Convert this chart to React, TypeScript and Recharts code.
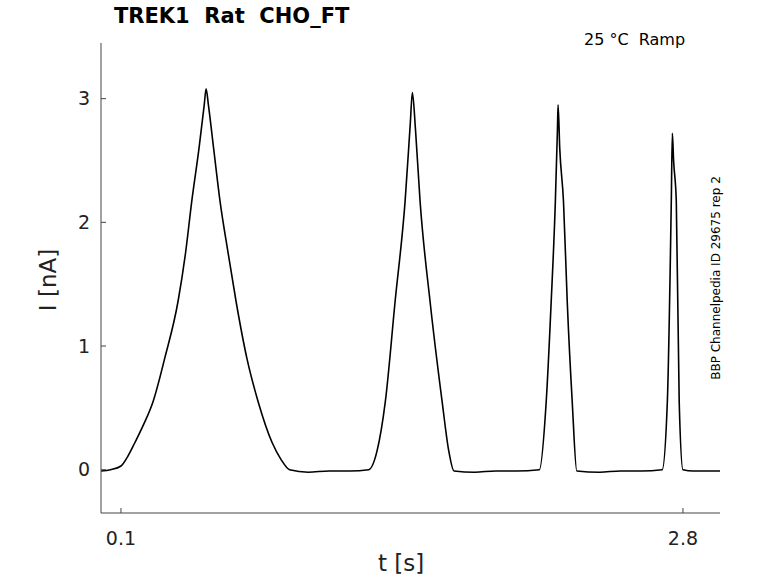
import { LineChart, Line, XAxis, YAxis } from "recharts";

const times = [
  0.004, 0.05, 0.1, 0.13, 0.167, 0.21, 0.254, 0.31, 0.374, 0.41, 0.44, 0.475, 0.5, 0.509,
  0.52, 0.545, 0.576, 0.615, 0.653, 0.705, 0.759, 0.826, 0.87, 0.91, 1.0, 1.1, 1.2, 1.29,
  1.33, 1.37, 1.417, 1.465, 1.49, 1.5, 1.515, 1.537, 1.585, 1.643, 1.675, 1.70, 1.8, 1.9,
  2.0, 2.11, 2.143, 2.167, 2.187, 2.197, 2.2, 2.208, 2.226, 2.244, 2.268, 2.29, 2.4, 2.5,
  2.6, 2.70, 2.725, 2.744, 2.749, 2.755, 2.768, 2.782, 2.80, 2.85, 2.9, 2.978,
];
const current = [
  -0.01, 0.0, 0.03, 0.1, 0.22, 0.37, 0.55, 0.9, 1.36, 1.75, 2.17, 2.6, 2.95, 3.08,
  2.95, 2.6, 2.17, 1.75, 1.36, 0.9, 0.55, 0.22, 0.08, 0.0, -0.02, -0.01, -0.01, 0.0,
  0.15, 0.55, 1.36, 2.17, 2.8, 3.05, 2.75, 2.17, 1.36, 0.55, 0.15, -0.01, -0.02, -0.01,
  -0.01, 0.0, 0.55, 1.36, 2.17, 2.75, 2.95, 2.6, 2.17, 1.36, 0.55, -0.01, -0.02, -0.01,
  -0.01, 0.0, 0.55, 2.17, 2.72, 2.5, 2.17, 0.55, 0.0, -0.01, -0.01, -0.01,
];
const xTicks = [0.1, 2.8];
const yTicks = [0, 1, 2, 3];

const data = times.map((t, i) => ({ t, i: current[i] }));

const font = "'DejaVu Sans', sans-serif";

export default function App() {
  return (
    <div style={{ position: "absolute", left: 0, top: 0, width: 778, height: 583, background: "#fff", fontFamily: font }}>
      <LineChart width={778} height={583} data={data} margin={{ top: 43, right: 58, bottom: 30, left: 41 }}>
        <XAxis
          dataKey="t"
          type="number"
          domain={[0.004, 2.978]}
          ticks={xTicks}
          tickFormatter={(v) => String(v)}
          height={40}
          axisLine={{ stroke: "#444" }}
          tickLine={{ stroke: "#444" }}
          tickSize={-5}
          tick={{ fontSize: 19, fill: "#222", fontFamily: font, dy: 22 }}
        />
        <YAxis
          type="number"
          domain={[-0.35, 3.45]}
          ticks={yTicks}
          width={60}
          axisLine={{ stroke: "#444" }}
          tickLine={{ stroke: "#444" }}
          tickSize={-5}
          tick={{ fontSize: 19, fill: "#222", fontFamily: font, dx: -14 }}
        />
        <Line type="monotone" dataKey="i" stroke="#000" strokeWidth={1.6} dot={false} isAnimationActive={false} />
      </LineChart>
      <div style={{ position: "absolute", left: 114, top: 4, fontSize: 21, fontWeight: "bold" }}>TREK1&nbsp;&nbsp;Rat&nbsp;&nbsp;CHO_FT</div>
      <div style={{ position: "absolute", left: 584, top: 30, fontSize: 16 }}>25 °C&nbsp;&nbsp;Ramp</div>
      <div style={{ position: "absolute", left: 378, top: 550, fontSize: 23, color: "#222" }}>t [s]</div>
      <div style={{ position: "absolute", left: 48, top: 280, fontSize: 23, color: "#222", transform: "translate(-50%,-50%) rotate(-90deg)", whiteSpace: "nowrap" }}>I [nA]</div>
      <div style={{ position: "absolute", left: 716, top: 278, fontSize: 12, transform: "translate(-50%,-50%) rotate(-90deg)", whiteSpace: "nowrap" }}>BBP Channelpedia ID 29675 rep 2</div>
    </div>
  );
}
